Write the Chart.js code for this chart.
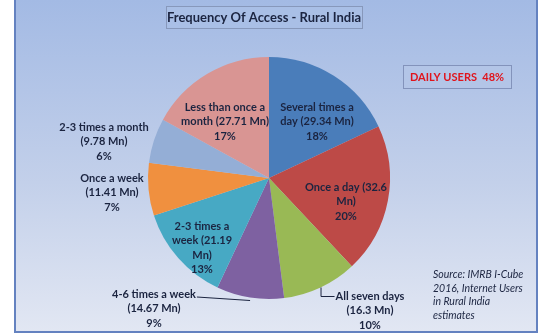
<!DOCTYPE html>
<html>
<head>
<meta charset="utf-8">
<title>Frequency Of Access - Rural India</title>
<script src="https://cdn.jsdelivr.net/npm/chart.js@4.4.0/dist/chart.umd.min.js"></script>
<style>
  html, body { margin: 0; padding: 0; background: #fff; }
  canvas { display: block; }
</style>
</head>
<body>
<canvas id="accessChart" width="549" height="335"></canvas>
<script>
// Internet users in rural India by how often they go online
const categories = [
  'Several times a day',
  'Once a day',
  'All seven days',
  '4-6 times a week',
  '2-3 times a week',
  'Once a week',
  '2-3 times a month',
  'Less than once a month',
];
const usersMn = [29.34, 32.6, 16.3, 14.67, 21.19, 11.41, 9.78, 27.71];
const sharePct = [18, 20, 10, 9, 13, 7, 6, 17];
// how many words go on each line of a slice label (the % goes on its own line)
const wordsPerLine = [[3, 3], [4, 1], [3, 2], [4, 2], [3, 2, 1], [3, 2], [4, 2], [4, 3]];
const sliceColors = ['#4a7dba', '#bd4a47', '#99b955', '#7e61a1', '#47a9c4', '#f0903f', '#94aed6', '#d99593'];
// label position (centre of first line) relative to the pie centre
const labelOffsets = [[48, -71], [77, 9], [101, 118], [-115, 116], [-67, 48], [-157, 0], [-165, -51], [-44, -71]];
const leaders = [null, null, 'elbow', 'straight', null, null, null, null];
const sourceLines = ['Source: IMRB I-Cube', '2016, Internet Users', 'in Rural India', 'estimates'];
const dailyShare = sharePct[0] + sharePct[1] + sharePct[2];

const TEXT = '#1b2440';
const LABEL_FONT = 'bold 11px Lato';

function wrapLabel(i) {
  const words = `${categories[i]} (${usersMn[i]} Mn)`.split(' ');
  const lines = [];
  let k = 0;
  wordsPerLine[i].forEach((n) => {
    lines.push(words.slice(k, k + n).join(' '));
    k += n;
  });
  lines.push(`${sharePct[i]}%`);
  return lines;
}

const backdrop = {
  id: 'backdrop',
  beforeDraw(chart) {
    const c = chart.ctx;
    c.save();
    const g = c.createLinearGradient(0, 0, 0, 332);
    g.addColorStop(0, '#a3bae4');
    g.addColorStop(0.55, '#c3d0ea');
    g.addColorStop(1, '#e2e7f3');
    c.fillStyle = g;
    c.fillRect(15, 0, 522, 332);
    c.strokeStyle = '#6482c0';
    c.lineWidth = 2;
    c.strokeRect(15, -2, 522, 334);

    // title box
    c.fillStyle = '#a9bfe6';
    c.fillRect(166.5, 6.5, 196, 22);
    c.strokeStyle = '#8798bb';
    c.lineWidth = 1;
    c.strokeRect(166.5, 6.5, 196, 22);
    c.fillStyle = TEXT;
    c.font = 'bold 13px Lato';
    c.textAlign = 'center';
    c.textBaseline = 'middle';
    c.fillText('Frequency Of Access - Rural India', 264, 18);

    // daily users box
    c.fillStyle = '#b3c5e7';
    c.fillRect(403.5, 65.5, 108, 23);
    c.strokeStyle = '#8393bb';
    c.strokeRect(403.5, 65.5, 108, 23);
    c.fillStyle = '#e0141c';
    c.font = 'bold 11px Lato';
    c.fillText(`DAILY USERS  ${dailyShare}%`, 457, 77);

    // source note
    c.fillStyle = TEXT;
    c.font = 'italic 10.5px Lato';
    c.textAlign = 'left';
    sourceLines.forEach((s, j) => c.fillText(s, 433, 275 + j * 13.4));
    c.restore();
  },
};

const sliceLabels = {
  id: 'sliceLabels',
  afterDatasetsDraw(chart) {
    const c = chart.ctx;
    const meta = chart.getDatasetMeta(0);
    c.save();
    c.font = LABEL_FONT;
    c.textAlign = 'center';
    c.textBaseline = 'middle';
    meta.data.forEach((arc, i) => {
      const p = arc.getProps(['x', 'y', 'startAngle', 'endAngle', 'outerRadius'], true);
      const mid = (p.startAngle + p.endAngle) / 2;
      const ex = p.x + Math.cos(mid) * p.outerRadius;
      const ey = p.y + Math.sin(mid) * p.outerRadius;
      const lines = wrapLabel(i);
      const lx = p.x + labelOffsets[i][0];
      const ly = p.y + labelOffsets[i][1];
      const w0 = c.measureText(lines[0]).width;

      c.strokeStyle = '#1b2440';
      c.lineWidth = 1;
      if (leaders[i] === 'elbow') {
        c.beginPath();
        c.moveTo(ex + 0.5, ey);
        c.lineTo(ex + 0.5, ly + 0.5);
        c.lineTo(lx - w0 / 2 - 1, ly + 0.5);
        c.stroke();
      } else if (leaders[i] === 'straight') {
        c.beginPath();
        c.moveTo(lx + w0 / 2 + 1, ly + 3);
        c.lineTo(ex, ey + 3);
        c.stroke();
      }

      c.fillStyle = TEXT;
      lines.forEach((t, j) => c.fillText(t, lx, ly + j * 14.6));
    });
    c.restore();
  },
};

const ctx = document.getElementById('accessChart').getContext('2d');
const accessChart = new Chart(ctx, {
  type: 'pie',
  data: {
    labels: categories,
    datasets: [{
      data: usersMn,
      backgroundColor: sliceColors,
      borderWidth: 0,
    }],
  },
  options: {
    responsive: false,
    animation: false,
    devicePixelRatio: 1,
    layout: {
      padding: { top: 57, bottom: 36, left: 100, right: 111 },
    },
    plugins: {
      legend: { display: false },
      tooltip: { enabled: false },
    },
  },
  plugins: [backdrop, sliceLabels],
});
</script>
</body>
</html>
